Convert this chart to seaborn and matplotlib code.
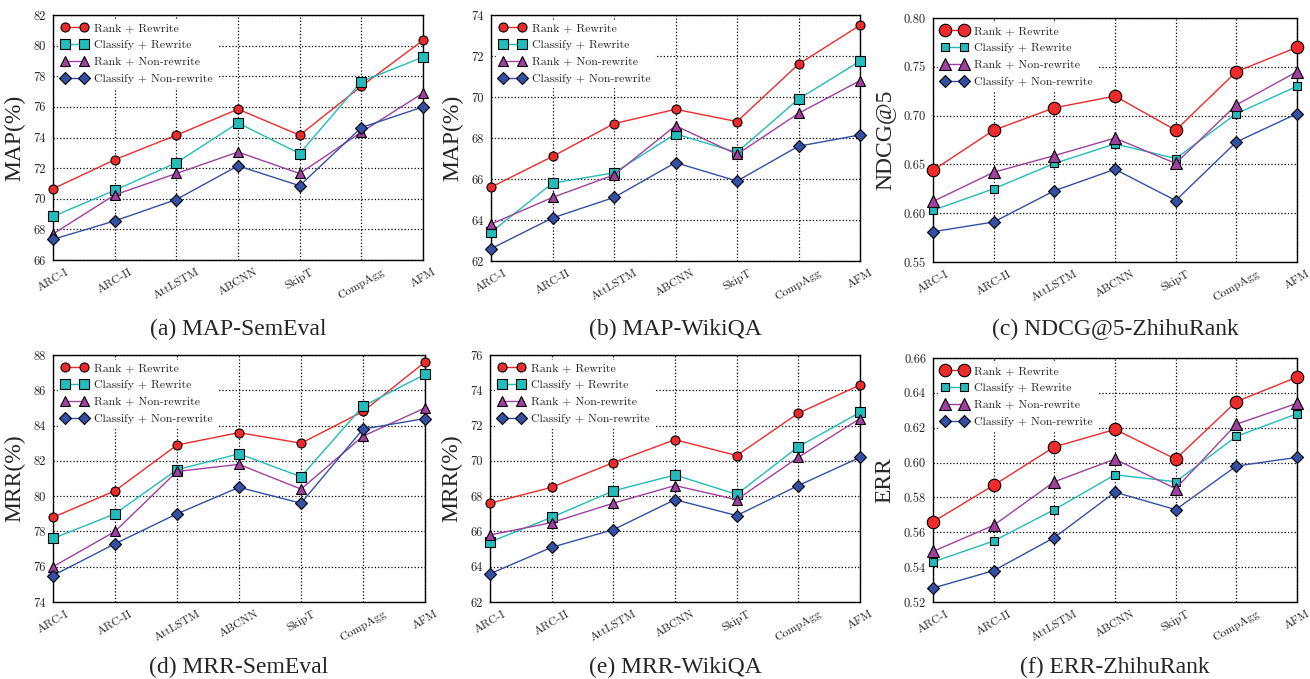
import pandas as pd
import matplotlib
matplotlib.use('Agg')
import matplotlib.pyplot as plt
import seaborn as sns

# models on the x axis
models = ['ARC-I', 'ARC-II', 'AttLSTM', 'ABCNN', 'SkipT', 'CompAgg', 'AFM']
series = ['Rank + Rewrite', 'Classify + Rewrite', 'Rank + Non-rewrite', 'Classify + Non-rewrite']

# (a) MAP-SemEval
map_semeval_rr = [70.65, 72.55, 74.15, 75.85, 74.15, 77.35, 80.35]
map_semeval_cr = [68.85, 70.55, 72.35, 74.95, 72.95, 77.65, 79.25]
map_semeval_rn = [67.7, 70.25, 71.65, 73.05, 71.65, 74.35, 76.9]
map_semeval_cn = [67.35, 68.55, 69.95, 72.15, 70.85, 74.65, 76.0]

# (b) MAP-WikiQA
map_wiki_rr = [65.6, 67.1, 68.7, 69.4, 68.8, 71.6, 73.5]
map_wiki_cr = [63.4, 65.8, 66.3, 68.2, 67.3, 69.9, 71.75]
map_wiki_rn = [63.8, 65.1, 66.2, 68.6, 67.2, 69.2, 70.8]
map_wiki_cn = [62.6, 64.1, 65.1, 66.8, 65.9, 67.6, 68.15]

# (c) NDCG@5-ZhihuRank
ndcg_rr = [0.644, 0.685, 0.708, 0.720, 0.685, 0.745, 0.770]
ndcg_cr = [0.603, 0.625, 0.651, 0.671, 0.656, 0.702, 0.730]
ndcg_rn = [0.612, 0.642, 0.659, 0.677, 0.651, 0.711, 0.745]
ndcg_cn = [0.581, 0.591, 0.623, 0.645, 0.613, 0.673, 0.702]

# (d) MRR-SemEval
mrr_semeval_rr = [78.8, 80.3, 82.9, 83.6, 83.0, 84.8, 87.6]
mrr_semeval_cr = [77.6, 79.0, 81.5, 82.4, 81.1, 85.1, 86.9]
mrr_semeval_rn = [76.0, 78.0, 81.4, 81.8, 80.4, 83.4, 85.0]
mrr_semeval_cn = [75.5, 77.3, 79.0, 80.5, 79.6, 83.8, 84.4]

# (e) MRR-WikiQA
mrr_wiki_rr = [67.6, 68.5, 69.9, 71.2, 70.3, 72.7, 74.3]
mrr_wiki_cr = [65.4, 66.8, 68.3, 69.2, 68.1, 70.8, 72.75]
mrr_wiki_rn = [65.8, 66.5, 67.6, 68.6, 67.8, 70.2, 72.4]
mrr_wiki_cn = [63.6, 65.1, 66.1, 67.8, 66.9, 68.6, 70.2]

# (f) ERR-ZhihuRank
err_rr = [0.566, 0.587, 0.609, 0.619, 0.602, 0.635, 0.649]
err_cr = [0.543, 0.555, 0.573, 0.593, 0.589, 0.615, 0.628]
err_rn = [0.549, 0.564, 0.589, 0.602, 0.585, 0.622, 0.634]
err_cn = [0.528, 0.538, 0.557, 0.583, 0.573, 0.598, 0.603]

sns.set_style('white')
plt.rcParams['font.family'] = ['Liberation Serif', 'DejaVu Serif']
tick_font = ['cmr10', 'DejaVu Serif']
plt.rcParams['axes.formatter.use_mathtext'] = True

colors = ['#ee2a2a', '#22bcbc', '#a040a0', '#3350a5']
markers = ['o', 's', '^', 'D']
small_sizes = [6.5, 6.5, 6.5, 6.5]
big_sizes = [9.0, 6.0, 9.0, 6.5]

panels = [
    ([map_semeval_rr, map_semeval_cr, map_semeval_rn, map_semeval_cn], 'MAP(%)', (66, 82), [66, 68, 70, 72, 74, 76, 78, 80, 82], '(a) MAP-SemEval', small_sizes, '{:.0f}'),
    ([map_wiki_rr, map_wiki_cr, map_wiki_rn, map_wiki_cn], 'MAP(%)', (62, 74), [62, 64, 66, 68, 70, 72, 74], '(b) MAP-WikiQA', small_sizes, '{:.0f}'),
    ([ndcg_rr, ndcg_cr, ndcg_rn, ndcg_cn], 'NDCG@5', (0.55, 0.80), [0.55, 0.60, 0.65, 0.70, 0.75, 0.80], '(c) NDCG@5-ZhihuRank', big_sizes, '{:.2f}'),
    ([mrr_semeval_rr, mrr_semeval_cr, mrr_semeval_rn, mrr_semeval_cn], 'MRR(%)', (74, 88), [74, 76, 78, 80, 82, 84, 86, 88], '(d) MRR-SemEval', small_sizes, '{:.0f}'),
    ([mrr_wiki_rr, mrr_wiki_cr, mrr_wiki_rn, mrr_wiki_cn], 'MRR(%)', (62, 76), [62, 64, 66, 68, 70, 72, 74, 76], '(e) MRR-WikiQA', small_sizes, '{:.0f}'),
    ([err_rr, err_cr, err_rn, err_cn], 'ERR', (0.52, 0.66), [0.52, 0.54, 0.56, 0.58, 0.60, 0.62, 0.64, 0.66], '(f) ERR-ZhihuRank', big_sizes, '{:.2f}'),
]

W, H = 1310, 679
# axes boxes in pixels: left, top, right, bottom
boxes = [
    (53, 15, 423, 260), (491, 15, 860, 261), (933, 18, 1297, 262),
    (53, 355, 425, 602), (490, 355, 860, 602), (933, 358, 1297, 602),
]
caption_y = [329, 329, 329, 667, 667, 667]

fig = plt.figure(figsize=(W / 100, H / 100), dpi=100)

for (vals, ylabel, ylim, yticks, caption, sizes, fmt), box, cy in zip(panels, boxes, caption_y):
    l, t, r, b = box
    ax = fig.add_axes([l / W, 1 - b / H, (r - l) / W, (b - t) / H])
    df = pd.DataFrame({'model': models * 4,
                       'score': sum(vals, []),
                       'method': [s for s in series for _ in models]})
    df['pos'] = [i for _ in series for i in range(len(models))]
    for k, s in enumerate(series):
        sub = df[df['method'] == s]
        sns.lineplot(data=sub, x='pos', y='score', ax=ax, color=colors[k], marker=markers[k],
                     markersize=sizes[k], markeredgecolor='black', markeredgewidth=0.8,
                     linewidth=1.0, label=s, sort=False, zorder=3 + k, clip_on=False)
    ax.set_xlim(0, len(models) - 1)
    ax.set_ylim(*ylim)
    ax.set_xticks(range(len(models)))
    ax.set_xticklabels(models, rotation=30, ha='center', family=tick_font, fontsize=8.5)
    ax.set_yticks(yticks)
    ax.set_yticklabels([fmt.format(v) for v in yticks], family=tick_font, fontsize=9)
    ax.tick_params(direction='out', length=3, width=0.8, pad=2, color='black')
    ax.grid(True, linestyle=':', color='black', linewidth=0.9)
    ax.set_axisbelow(True)
    for sp in ax.spines.values():
        sp.set_color('black')
        sp.set_linewidth(1.0)
    ax.set_xlabel('')
    ax.set_ylabel(ylabel, fontsize=17, labelpad=6)
    leg = ax.legend(loc='upper left', numpoints=2, frameon=True, fancybox=False,
                    edgecolor='white', framealpha=1.0, borderpad=0.3, labelspacing=0.55,
                    handlelength=2.2, handletextpad=0.6, borderaxespad=0.4,
                    prop={'family': tick_font, 'size': 8.5})
    leg.set_zorder(10)
    fig.text((l + r) / 2 / W, 1 - cy / H, caption, ha='center', va='center', fontsize=17)

plt.savefig('out.png', dpi=100)
